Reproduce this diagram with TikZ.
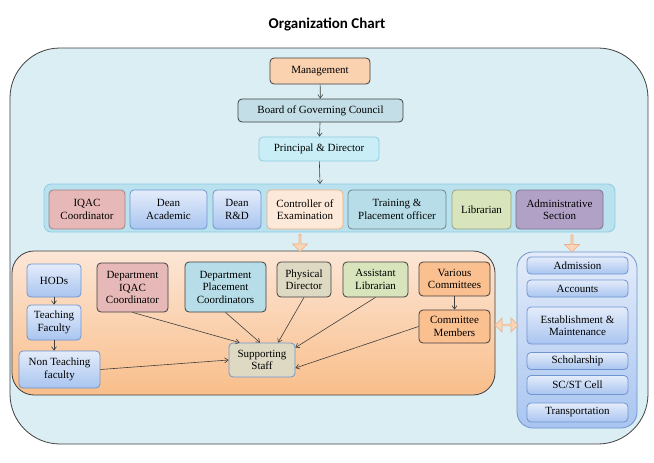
\documentclass[tikz,border=0pt]{standalone}
\usepackage{fontspec}
\setmainfont{Liberation Serif}
\newfontfamily\titlefont{Carlito}
\usetikzlibrary{shapes.arrows,arrows.meta}
\definecolor{outerfill}{HTML}{DBEEF4}
\definecolor{outerdraw}{HTML}{404040}
\definecolor{mgmt}{HTML}{FAD2B0}
\definecolor{board}{HTML}{C3DEE6}
\definecolor{princ}{HTML}{C9EEF6}
\definecolor{rowfill}{HTML}{B9E2EE}
\definecolor{rowdraw}{HTML}{8FCBE0}
\definecolor{pinkf}{HTML}{E6B9B8}
\definecolor{bluetop}{HTML}{E4ECFA}
\definecolor{bluebot}{HTML}{A9C5F0}
\definecolor{bluedraw}{HTML}{6F95CF}
\definecolor{peachf}{HTML}{FDE9D9}
\definecolor{tealf}{HTML}{B7DEE8}
\definecolor{greenf}{HTML}{D7E4BC}
\definecolor{purplef}{HTML}{B2A1C7}
\definecolor{tanf}{HTML}{DDD9C3}
\definecolor{orangef}{HTML}{FAC090}
\definecolor{orangetop}{HTML}{FCE6D6}
\definecolor{orangebot}{HTML}{F9BE8A}
\definecolor{arrowfill}{HTML}{FBD5B5}
\definecolor{arrowdraw}{HTML}{E8B088}
\definecolor{darkb}{HTML}{3F3F3F}
\tikzset{
  box/.style={rectangle, rounded corners=4pt, draw=darkb, line width=0.8pt, align=center, inner sep=1pt, font=\fontsize{11}{12.5}\selectfont},
  lbox/.style={box, draw=rowdraw},
  bbox/.style={box, draw=bluedraw, top color=bluetop, bottom color=bluebot},
  arr/.style={-{Straight Barb[length=3.5pt,width=5pt]}, line width=0.6pt, draw=darkb},
  blockarrow/.style={fill=arrowfill, draw=arrowdraw, line width=0.6pt, inner sep=0pt}
}
\begin{document}
\begin{tikzpicture}[x=1pt,y=-1pt]
\useasboundingbox (0,0) rectangle (654,463);
\node[font=\titlefont\bfseries\fontsize{15}{17}\selectfont] (title) at (327,24) {Organization Chart};
% outer container
\draw[fill=outerfill, draw=outerdraw, line width=0.8pt, rounded corners=50pt] (10,48) rectangle (648,444);
% top chain
\node[box, fill=mgmt, minimum width=100pt, minimum height=26pt] (mg) at (320,71) {Management};
\node[box, fill=board, minimum width=165pt, minimum height=23pt] (bd) at (320.5,110.5) {Board of Governing Council};
\node[lbox, fill=princ, minimum width=120pt, minimum height=24pt] (pd) at (319,149) {Principal \& Director};
% row container
\draw[fill=rowfill, draw=rowdraw, line width=0.8pt, rounded corners=7pt] (44,184) rectangle (615,232);
\coordinate (rowtop) at (320,184);
\node[lbox, draw=pinkf!70!black, fill=pinkf, minimum width=76pt, minimum height=39pt] (iqac) at (87,209.5) {IQAC\\Coordinator};
\node[bbox, minimum width=77pt, minimum height=39pt] (da) at (168.5,209.5) {Dean\\Academic};
\node[bbox, minimum width=48pt, minimum height=39pt] (dr) at (237,209.5) {Dean\\R\&D};
\node[lbox, draw=arrowdraw, fill=peachf, minimum width=76pt, minimum height=39pt] (ce) at (305,209.5) {Controller of\\Examination};
\node[lbox, draw=tealf!60!black, fill=tealf, minimum width=98pt, minimum height=39pt] (tp) at (397,209.5) {Training \&\\Placement officer};
\node[lbox, draw=greenf!70!black, fill=greenf, minimum width=59pt, minimum height=39pt] (lib) at (481.5,209.5) {Librarian};
\node[lbox, draw=purplef!70!black, fill=purplef, minimum width=87pt, minimum height=39pt] (as) at (559.5,209.5) {Administrative\\Section};
\draw[arr] (mg) -- (bd);
\draw[arr] (bd) -- (pd);
\draw[arr] (pd) -- (rowtop);
% orange container
\draw[top color=orangetop, bottom color=orangebot, draw=darkb, line width=0.8pt, rounded corners=22pt] (12,251) rectangle (495,395);
% right container
\draw[top color=bluetop, bottom color=bluebot, draw=bluedraw, line width=0.8pt, rounded corners=16pt] (517,252) rectangle (637,428);
% block arrows
\node[single arrow, blockarrow, shape border rotate=270, minimum width=15pt, single arrow head extend=2pt, minimum height=17pt] (ba1) at (300,242.5) {};
\node[single arrow, blockarrow, shape border rotate=270, minimum width=15pt, single arrow head extend=2pt, minimum height=17pt] (ba2) at (572,243) {};
\node[double arrow, blockarrow, minimum width=14pt, double arrow head extend=2pt, minimum height=23pt] (ba3) at (506.5,325) {};
% orange inner nodes
\node[bbox, minimum width=54pt, minimum height=33pt] (hod) at (54,280.5) {HODs};
\node[bbox, minimum width=54pt, minimum height=35pt] (tf) at (54,322.5) {Teaching\\Faculty};
\node[bbox, minimum width=81pt, minimum height=37pt] (nt) at (59.5,369.5) {Non Teaching\\faculty};
\node[box, fill=pinkf, minimum width=71pt, minimum height=49pt] (diqac) at (132.5,287.5) {Department\\IQAC\\Coordinator};
\node[box, fill=tealf, minimum width=81pt, minimum height=50pt] (dpc) at (225.5,287) {Department\\Placement\\Coordinators};
\node[box, fill=tanf, minimum width=54pt, minimum height=35pt] (phy) at (304,279.5) {Physical\\Director};
\node[box, fill=greenf, minimum width=65pt, minimum height=35pt] (al) at (375.5,279.5) {Assistant\\Librarian};
\node[box, fill=orangef, minimum width=71pt, minimum height=34pt] (vc) at (454.5,279) {Various\\Committees};
\node[box, fill=orangef, minimum width=71pt, minimum height=33pt] (cm) at (454.5,326.5) {Committee\\Members};
\node[box, draw=bluedraw, fill=tanf, minimum width=66pt, minimum height=34pt] (ss) at (262,360) {Supporting\\Staff};
\draw[arr] (hod) -- (tf);
\draw[arr] (tf) -- (tf|-nt.north);
\draw[arr] (vc) -- (cm);
\draw[arr] (diqac.south) -- ([xshift=11pt]ss.north west);
\draw[arr] (dpc.south) -- ([xshift=-2pt]ss.north);
\draw[arr] (phy.south) -- ([xshift=16pt]ss.north);
\draw[arr] (al.south) -- ([yshift=-5pt]ss.north east);
\draw[arr] (cm.west) -- ([yshift=-8pt]ss.east);
\draw[arr] (nt.east) -- (ss.west);
% right inner nodes
\node[bbox, minimum width=101pt, minimum height=17pt] (adm) at (577.5,265.5) {Admission};
\node[bbox, minimum width=101pt, minimum height=17pt] (acc) at (577.5,288.5) {Accounts};
\node[bbox, minimum width=101pt, minimum height=37pt] (est) at (577.5,325.5) {Establishment \&\\Maintenance};
\node[bbox, minimum width=101pt, minimum height=17pt] (sch) at (577.5,361) {Scholarship};
\node[bbox, minimum width=101pt, minimum height=19pt] (sc) at (577.5,385) {SC/ST Cell};
\node[bbox, minimum width=101pt, minimum height=19pt] (tr) at (577.5,412.5) {Transportation};
\end{tikzpicture}
\end{document}
